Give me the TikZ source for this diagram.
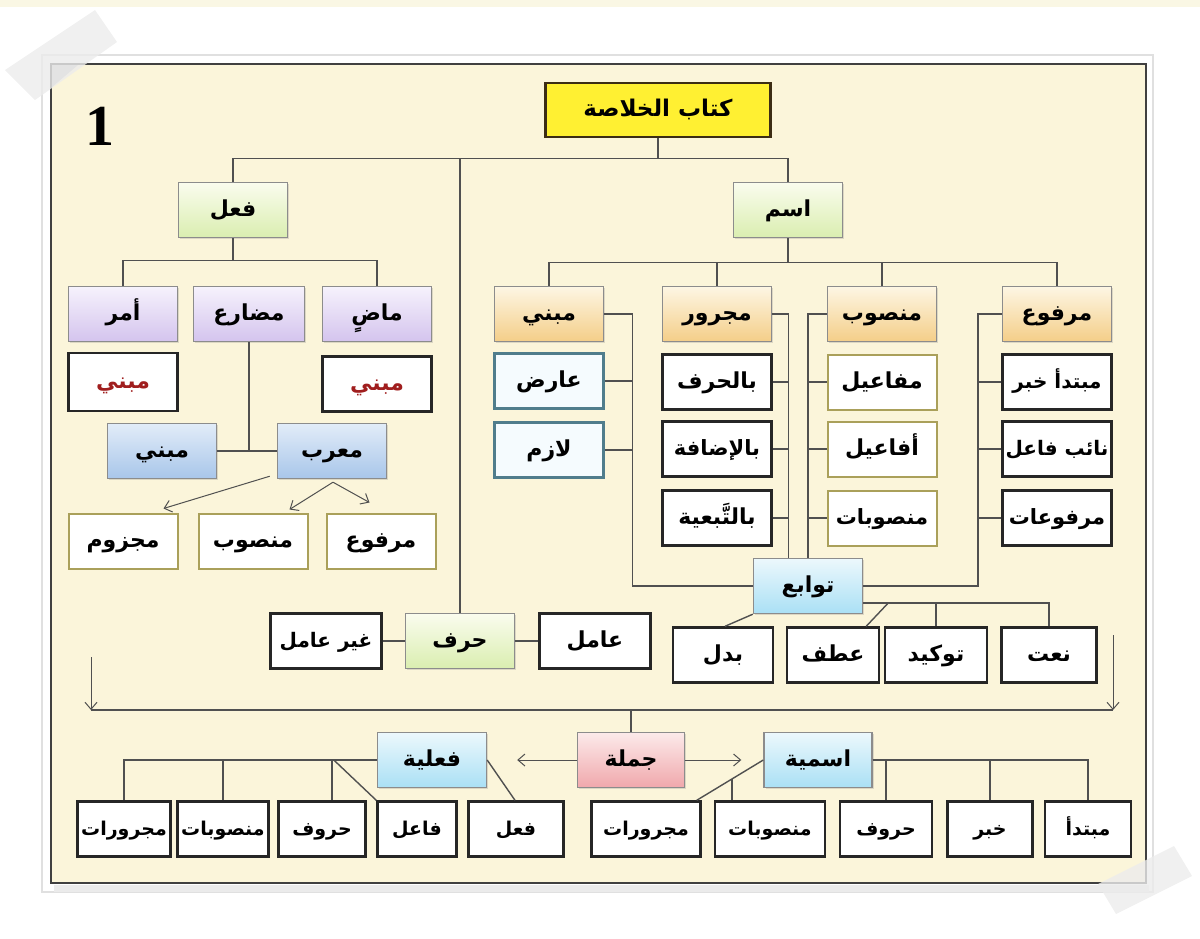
\documentclass[tikz,border=0pt]{standalone}
\usepackage{fontspec}
\usetikzlibrary{positioning,shapes,shadows,arrows,arrows.meta,calc}
\TeXXeTstate=1
\newfontfamily\arabicfont[Script=Arabic]{DejaVu Sans}
\newfontfamily\numfont{Liberation Serif}
\newcommand{\artxt}[1]{{\arabicfont\bfseries\beginR #1\endR}}
\newcommand{\redtxt}[1]{\textcolor{mabnired}{\artxt{#1}}}
\pgfdeclarelayer{background}
\pgfsetlayers{background,main}

\definecolor{paper}{RGB}{251,245,218}
\definecolor{strip}{RGB}{250,247,228}
\definecolor{linegray}{RGB}{80,80,80}
\definecolor{edgegray}{RGB}{140,140,140}
\definecolor{titlefill}{RGB}{255,240,50}
\definecolor{titleedge}{RGB}{60,45,20}
\definecolor{greenB}{RGB}{218,238,176}
\definecolor{greenT}{RGB}{250,252,238}
\definecolor{purpleB}{RGB}{212,196,238}
\definecolor{purpleT}{RGB}{246,242,252}
\definecolor{blueB}{RGB}{168,198,234}
\definecolor{blueT}{RGB}{226,236,248}
\definecolor{orangeB}{RGB}{244,206,136}
\definecolor{orangeT}{RGB}{253,246,228}
\definecolor{cyanB}{RGB}{170,224,245}
\definecolor{cyanT}{RGB}{236,248,252}
\definecolor{pinkB}{RGB}{240,168,172}
\definecolor{pinkT}{RGB}{252,234,234}
\definecolor{olive}{RGB}{170,160,90}
\definecolor{tealedge}{RGB}{80,125,140}
\definecolor{mabnired}{RGB}{160,30,30}
\definecolor{tape}{RGB}{236,236,236}

\tikzset{
  box/.style={rectangle, minimum width=109pt, minimum height=55pt, inner sep=1pt,
    text height=1.35em, text depth=0.02em, font=\fontsize{22}{26}\selectfont},
  shadebox/.style={box, draw=edgegray, line width=1.4pt,
    drop shadow={shadow xshift=1.5pt, shadow yshift=-1.5pt, opacity=0.25}},
  titlebox/.style={box, minimum width=225pt, minimum height=54pt, fill=titlefill,
    draw=titleedge, line width=2.4pt, font=\fontsize{23}{27}\selectfont},
  greenbox/.style={shadebox, top color=greenT, bottom color=greenB},
  purplebox/.style={shadebox, top color=purpleT, bottom color=purpleB},
  bluebox/.style={shadebox, top color=blueT, bottom color=blueB},
  orangebox/.style={shadebox, top color=orangeT, bottom color=orangeB},
  cyanbox/.style={shadebox, top color=cyanT, bottom color=cyanB},
  pinkbox/.style={shadebox, top color=pinkT, bottom color=pinkB},
  blackbox/.style={box, fill=white, draw=black!85, line width=2.4pt},
  olivebox/.style={box, fill=white, draw=olive, line width=2pt},
  tealbox/.style={box, fill=cyanT!50!white, draw=tealedge, line width=2.2pt},
  smallbox/.style={blackbox, font=\fontsize{19}{23}\selectfont},
  longtext/.style={font=\fontsize{20}{24}\selectfont},
  midtext/.style={font=\fontsize{21}{25}\selectfont},
  link/.style={draw=linegray, line width=1.4pt},
  arrowlink/.style={draw=linegray, line width=1pt, -{Straight Barb[length=7pt,width=12pt]}}
}

\begin{document}
\begin{tikzpicture}[x=1pt,y=-1pt]
\useasboundingbox (0,0) rectangle (1200,938);
\begin{pgfonlayer}{background}
\fill[strip] (0,0) rectangle (1200,7);
\draw[black!12, line width=1.5pt, fill=white] (42,55) rectangle (1153,892);
\fill[black!8] (54,885) rectangle (1149,892);
\draw[black!75, line width=2pt, fill=paper] (51,64) rectangle (1146,883);
\fill[black!25] (52,65) -- (78,65) -- (52,87) -- cycle;
\fill[tape, opacity=0.8] (5,70) -- (35,100) -- (117,42) -- (95,10) -- cycle;
\fill[tape, opacity=0.8] (1098,884) -- (1116,914) -- (1192,876) -- (1174,846) -- cycle;
\end{pgfonlayer}

\node (pagenum) at (100,126) {\numfont\bfseries\fontsize{58}{60}\selectfont 1};

\node[titlebox] (kitab) at (658,110) {\artxt{كتاب الخلاصة}};
\node[greenbox] (fil) at (233,210) {\artxt{فعل}};
\node[greenbox] (ism) at (788,210) {\artxt{اسم}};

\node[purplebox] (amr) at (123,314) {\artxt{أمر}};
\node[purplebox, minimum width=111pt] (mudari) at (249,314) {\artxt{مضارع}};
\node[purplebox] (madi) at (377,314) {\artxt{ماضٍ}};
\node[blackbox, minimum height=58pt] (amrmabni) at (123,382) {\redtxt{مبني}};
\node[blackbox] (madimabni) at (377,384) {\redtxt{مبني}};
\node[bluebox] (mabniB) at (162,451) {\artxt{مبني}};
\node[bluebox] (murab) at (332,451) {\artxt{معرب}};
\node[olivebox] (majzum) at (123,541) {\artxt{مجزوم}};
\node[olivebox] (nasbA) at (253,541) {\artxt{منصوب}};
\node[olivebox] (rafA) at (381,541) {\artxt{مرفوع}};

\node[orangebox] (mabni) at (549,314) {\artxt{مبني}};
\node[orangebox] (majrur) at (717,314) {\artxt{مجرور}};
\node[orangebox] (mansub) at (882,314) {\artxt{منصوب}};
\node[orangebox] (marfu) at (1057,314) {\artxt{مرفوع}};
\node[tealbox] (arid) at (549,381) {\artxt{عارض}};
\node[tealbox] (lazim) at (549,450) {\artxt{لازم}};
\node[blackbox] (biharf) at (717,382) {\artxt{بالحرف}};
\node[blackbox, midtext] (idafa) at (717,449) {\artxt{بالإضافة}};
\node[blackbox] (tabaiya) at (717,518) {\artxt{بالتَّبعية}};
\node[olivebox] (mafail) at (882,382) {\artxt{مفاعيل}};
\node[olivebox] (afail) at (882,449) {\artxt{أفاعيل}};
\node[olivebox, midtext] (mansubat) at (882,518) {\artxt{منصوبات}};
\node[blackbox, longtext] (mubtada) at (1057,382) {\artxt{مبتدأ خبر}};
\node[blackbox, longtext] (naib) at (1057,449) {\artxt{نائب فاعل}};
\node[blackbox, midtext] (marfuat) at (1057,518) {\artxt{مرفوعات}};

\node[cyanbox] (tawabi) at (808,586) {\artxt{توابع}};
\node[blackbox, minimum width=100pt] (badal) at (723,655) {\artxt{بدل}};
\node[blackbox, minimum width=92pt] (atf) at (833,655) {\artxt{عطف}};
\node[blackbox, minimum width=102pt] (tawkid) at (936,655) {\artxt{توكيد}};
\node[blackbox, minimum width=95pt] (nat) at (1049,655) {\artxt{نعت}};

\node[greenbox] (harf) at (460,641) {\artxt{حرف}};
\node[blackbox, longtext, minimum width=111pt] (ghayr) at (326,641) {\artxt{غير عامل}};
\node[blackbox, minimum width=111pt] (amil) at (595,641) {\artxt{عامل}};

\node[pinkbox, minimum width=107pt] (jumla) at (631,760) {\artxt{جملة}};
\node[cyanbox] (filiya) at (432,760) {\artxt{فعلية}};
\node[cyanbox, minimum width=108pt] (ismiya) at (818,760) {\artxt{اسمية}};

\node[smallbox, minimum width=93pt] (majruratL) at (124,829) {\artxt{مجرورات}};
\node[smallbox, minimum width=91pt] (mansubatL) at (223,829) {\artxt{منصوبات}};
\node[smallbox, minimum width=87pt] (hurufL) at (322,829) {\artxt{حروف}};
\node[smallbox, minimum width=79pt] (fail) at (417,829) {\artxt{فاعل}};
\node[smallbox, minimum width=95pt] (filB) at (516,829) {\artxt{فعل}};
\node[smallbox] (majruratR) at (646,829) {\artxt{مجرورات}};
\node[smallbox, minimum width=110pt] (mansubatR) at (770,829) {\artxt{منصوبات}};
\node[smallbox, minimum width=92pt] (hurufR) at (886,829) {\artxt{حروف}};
\node[smallbox, minimum width=85pt] (khabar) at (990,829) {\artxt{خبر}};
\node[smallbox, minimum width=86pt] (mubtadaB) at (1088,829) {\artxt{مبتدأ}};

\draw[link] (kitab.south) -- ++(0,20) coordinate (top) -| (fil.north);
\draw[link] (top) -| (ism.north);
\draw[link] (top) -| (harf.north);

\draw[link] (fil.south) -- ++(0,22) coordinate (filj) -| (amr.north);
\draw[link] (filj) -| (madi.north);
\draw[link] (mabniB) -- (murab);
\draw[link] (mudari.south) -- (mudari.south |- murab.west);
\coordinate (murabfoot) at ($(murab.south)+(1,3)$);
\draw[arrowlink] ($(murab.south west)+(-7,-3)$) -- ($(majzum.north east)+(-15,-4)$);
\draw[arrowlink] (murabfoot) -- ($(nasbA.north east)+(-19,-3)$);
\draw[arrowlink] (murabfoot) -- ($(rafA.north west)+(44,-10)$);

\draw[link] (ism.south) -- ++(0,24) coordinate (ismj) -| (mabni.north);
\draw[link] (ismj) -| (majrur.north);
\draw[link] (ismj) -| (mansub.north);
\draw[link] (ismj) -| (marfu.north);

\draw[link] (mabni.east) -- ++(28,0) coordinate (mabnij) |- (tawabi.west);
\draw[link] (arid.east) -- (arid.east -| mabnij);
\draw[link] (lazim.east) -- (lazim.east -| mabnij);
\draw[link] (majrur.east) -- ++(16,0) coordinate (majrurj) -- (majrurj |- tawabi.north);
\draw[link] (biharf.east) -- (biharf.east -| majrurj);
\draw[link] (idafa.east) -- (idafa.east -| majrurj);
\draw[link] (tabaiya.east) -- (tabaiya.east -| majrurj);
\draw[link] (mansub.west) -| (tawabi.north);
\draw[link] (mafail.west) -- (mafail.west -| tawabi.north);
\draw[link] (afail.west) -- (afail.west -| tawabi.north);
\draw[link] (mansubat.west) -- (mansubat.west -| tawabi.north);
\draw[link] (marfu.west) -- ++(-24,0) coordinate (marfuj) |- (tawabi.east);
\draw[link] (mubtada.west) -- (mubtada.west -| marfuj);
\draw[link] (naib.west) -- (naib.west -| marfuj);
\draw[link] (marfuat.west) -- (marfuat.west -| marfuj);

\draw[link] ($(tawabi.east)+(0,17)$) coordinate (tawj) -| (nat.north);
\draw[link] (tawj -| tawkid.north) -- (tawkid.north);
\draw[link] ($(tawj)+(25,0)$) -- ($(atf.north east)+(-14,0)$);
\draw[link] (tawabi.south west) -- ($(badal.north)+(2,0)$);

\draw[link] (ghayr) -- (harf);
\draw[link] (harf) -- (amil);

\coordinate (sepL) at (91,710);
\coordinate (sepR) at (1113,710);
\draw[link] (sepL) -- (sepR);
\draw[arrowlink] ($(sepL)+(0,-53)$) -- (sepL);
\draw[arrowlink] ($(sepR)+(0,-75)$) -- (sepR);
\draw[link] (jumla.north) -- (jumla.north |- sepL);

\draw[arrowlink] (jumla.west) -- ($(filiya.east)+(30,0)$);
\draw[arrowlink] (jumla.east) -- ($(ismiya.west)+(-22,0)$);

\draw[link] (filiya.west) -| (majruratL.north);
\draw[link] (filiya.west) -| (mansubatL.north);
\draw[link] (filiya.west) -| ($(hurufL.north)+(10,0)$);
\draw[link] ($(filiya.west)+(-43,0)$) -- (fail.north west);
\draw[link] (filiya.east) -- ($(filB.north)+(-1,0)$);

\draw[link] (ismiya.east) -| (mubtadaB.north);
\draw[link] (ismiya.east) -| (khabar.north);
\draw[link] (ismiya.east) -| (hurufR.north);
\draw[link] (ismiya.west) -- coordinate[pos=0.47] (ismd) ($(majruratR.north east)+(-5,0)$);
\draw[link] (ismd) -- (ismd |- mansubatR.north);
\end{tikzpicture}
\end{document}
